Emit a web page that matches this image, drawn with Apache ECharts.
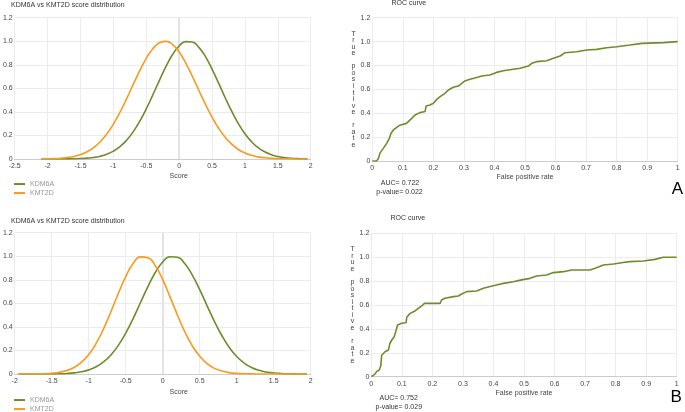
<!DOCTYPE html>
<html><head><meta charset="utf-8">
<script src="https://cdn.jsdelivr.net/npm/echarts/dist/echarts.min.js"></script>
<style>html,body{margin:0;padding:0;background:#fff}#c{width:685px;height:412px}</style>
</head><body><div id="c"></div>
<script>
// ---------- DATA ----------
const seriesNames = ['KDM6A', 'KMT2D'];
const titleDist = 'KDM6A vs KMT2D score distribution';
const titleRoc = 'ROC curve';

// Panel A: score distribution
const scoreX_A = [-2.1,-2.0,-1.9,-1.8,-1.7,-1.6,-1.5,-1.4,-1.3,-1.2,-1.1,-1.0,-0.9,-0.8,-0.7,-0.6,-0.5,-0.4,-0.3,-0.2,-0.1,0,0.1,0.2,0.3,0.4,0.5,0.6,0.7,0.8,0.9,1.0,1.1,1.2,1.3,1.4,1.5,1.6,1.7,1.8,1.9,1.95];
const kdm6a_A = [0,0.0001,0.0002,0.0004,0.0009,0.0018,0.0037,0.0072,0.013,0.024,0.041,0.067,0.105,0.159,0.230,0.320,0.426,0.545,0.668,0.786,0.887,0.960,0.997,0.993,0.948,0.869,0.763,0.644,0.520,0.404,0.300,0.214,0.147,0.096,0.061,0.037,0.021,0.012,0.006,0.003,0.0016,0.0011];
const kmt2d_A = [0.0009,0.0018,0.0035,0.0068,0.0125,0.022,0.038,0.062,0.097,0.147,0.212,0.296,0.397,0.510,0.631,0.749,0.855,0.937,0.987,0.999,0.972,0.908,0.815,0.703,0.582,0.464,0.355,0.261,0.184,0.125,0.081,0.051,0.031,0.018,0.010,0.005,0.003,0.0015,0.0007,0.0003,0.0001,0.0001];

// Panel A: ROC curve [false positive rate, true positive rate]
const roc_A = [[0,0],[0.014,0],[0.014,0.014],[0.02,0.02],[0.025,0.03],[0.025,0.066],[0.036,0.106],[0.047,0.148],[0.056,0.19],[0.061,0.23],[0.069,0.26],[0.074,0.273],[0.09,0.30],[0.112,0.315],[0.129,0.357],[0.14,0.385],[0.156,0.405],[0.173,0.415],[0.176,0.46],[0.189,0.469],[0.2,0.483],[0.211,0.516],[0.222,0.539],[0.238,0.567],[0.249,0.594],[0.265,0.617],[0.282,0.628],[0.293,0.650],[0.303,0.670],[0.32,0.684],[0.342,0.70],[0.358,0.712],[0.385,0.72],[0.407,0.742],[0.429,0.756],[0.462,0.768],[0.484,0.776],[0.511,0.795],[0.522,0.818],[0.538,0.832],[0.571,0.84],[0.593,0.86],[0.615,0.879],[0.631,0.907],[0.669,0.915],[0.702,0.929],[0.735,0.935],[0.767,0.949],[0.80,0.957],[0.844,0.971],[0.882,0.985],[0.953,0.991],[1.0,1.0]];
const stats_A = ['AUC= 0.722', 'p-value= 0.022'];

// Panel B: score distribution
const scoreX_B = [-1.95,-1.9,-1.8,-1.7,-1.6,-1.5,-1.4,-1.3,-1.2,-1.1,-1.0,-0.9,-0.8,-0.7,-0.6,-0.5,-0.4,-0.3,-0.2,-0.1,0,0.1,0.2,0.3,0.4,0.5,0.6,0.7,0.8,0.9,1.0,1.1,1.2,1.3,1.4,1.5,1.6,1.7,1.8,1.9,1.95];
const kdm6a_B = [0,0,0.0001,0.0002,0.0004,0.001,0.0022,0.0047,0.0097,0.019,0.035,0.061,0.102,0.162,0.243,0.347,0.471,0.607,0.742,0.862,0.951,0.996,0.991,0.936,0.840,0.716,0.579,0.445,0.325,0.225,0.148,0.093,0.055,0.031,0.017,0.0084,0.0041,0.0019,0.0008,0.0003,0.0002];
const kmt2d_B = [0.0001,0.0001,0.0004,0.0011,0.0027,0.0064,0.014,0.029,0.055,0.098,0.165,0.260,0.383,0.529,0.684,0.827,0.938,0.995,0.988,0.919,0.801,0.653,0.499,0.357,0.239,0.150,0.088,0.048,0.025,0.012,0.0054,0.0023,0.0009,0.0003,0.0001,0,0,0,0,0,0];

// Panel B: ROC curve
const roc_B = [[0,0],[0,0.014],[0.012,0.022],[0.017,0.042],[0.026,0.056],[0.031,0.089],[0.034,0.1],[0.034,0.18],[0.045,0.209],[0.056,0.223],[0.061,0.28],[0.067,0.307],[0.075,0.335],[0.08,0.377],[0.086,0.433],[0.099,0.447],[0.114,0.452],[0.116,0.497],[0.127,0.53],[0.143,0.55],[0.154,0.572],[0.165,0.592],[0.174,0.614],[0.225,0.614],[0.23,0.642],[0.241,0.656],[0.269,0.67],[0.285,0.675],[0.296,0.692],[0.312,0.712],[0.345,0.717],[0.367,0.74],[0.389,0.754],[0.41,0.768],[0.432,0.781],[0.465,0.795],[0.492,0.81],[0.52,0.823],[0.541,0.843],[0.574,0.851],[0.596,0.871],[0.629,0.879],[0.656,0.893],[0.716,0.893],[0.733,0.907],[0.76,0.935],[0.793,0.943],[0.825,0.955],[0.847,0.963],[0.891,0.968],[0.929,0.982],[0.956,0.999],[1,1]];
const stats_B = ['AUC= 0.752', 'p-value= 0.029'];

const panelLetters = ['A', 'B'];
const rocXName = 'False positive rate';
const rocYName = 'True positive rate';
const distXName = 'Score';

// ---------- STYLE ----------
const FONT = '"Liberation Sans", Arial, sans-serif';
const GREEN = '#6d8d2d', ORANGE = '#f99a1e';
const LBL = '#444', GRIDC = '#ececec';

const zip = (xs, ys) => xs.map((x, i) => [x, ys[i]]);
const yFmt = v => v === 0 ? '0' : v.toFixed(1);
const vertName = rocYName.split('').join('\n');

function xAx(grid, min, max, interval, name, gap, pad) {
  return {
    gridIndex: grid, type: 'value', min, max, interval,
    name, nameLocation: 'middle', nameGap: gap,
    nameTextStyle: { fontSize: 7, color: LBL, fontFamily: FONT, padding: [0, 0, 0, pad] },
    axisLine: { lineStyle: { color: '#ccc' } }, axisTick: { show: false },
    axisLabel: { fontSize: 7, color: LBL, fontFamily: FONT, margin: 4 },
    splitLine: { show: true, lineStyle: { color: GRIDC } }
  };
}
function yAx(grid, roc) {
  const a = {
    gridIndex: grid, type: 'value', min: 0, max: 1.2, interval: 0.2,
    axisLine: { show: false }, axisTick: { show: false },
    axisLabel: { fontSize: 7, color: LBL, fontFamily: FONT, margin: 2, formatter: yFmt },
    splitLine: { show: true, lineStyle: { color: GRIDC } }
  };
  if (roc) {
    a.name = vertName; a.nameLocation = 'middle'; a.nameRotate = 0; a.nameGap = 14.6;
    a.nameTextStyle = { fontSize: 7, color: LBL, fontFamily: FONT, lineHeight: 6.55, align: 'center', verticalAlign: 'middle' };
  }
  return a;
}
function distSeries(name, idx, xs, ys, color, withZero) {
  const s = {
    name, type: 'line', xAxisIndex: idx, yAxisIndex: idx, data: zip(xs, ys),
    smooth: true, symbol: 'none', lineStyle: { color, width: 1.6 }, itemStyle: { color }, z: 3
  };
  if (withZero) s.markLine = { silent: true, symbol: 'none', label: { show: false },
    lineStyle: { color: '#e3e3e3', width: 2, type: 'solid' }, data: [{ xAxis: 0 }], z: 1 };
  return s;
}
function rocSeries(idx, pts) {
  return { name: 'ROC' + idx, type: 'line', xAxisIndex: idx, yAxisIndex: idx, data: pts,
    symbol: 'none', lineStyle: { color: GREEN, width: 1.6 }, z: 3 };
}
const tStyle = { fontSize: 7, fontWeight: 'normal', color: '#333', fontFamily: FONT };
function txt(x, y, text, size, color) {
  return { type: 'text', x, y, style: { text, fontSize: size, fill: color, fontFamily: FONT,
    align: 'center', verticalAlign: 'middle', textAlign: 'center', textVerticalAlign: 'middle' } };
}
function legend(top) {
  return { left: 14, top, height: 30, orient: 'vertical', padding: 0, itemWidth: 11, itemHeight: 2, itemGap: 1.5,
    icon: 'rect', data: seriesNames, textStyle: { fontSize: 7, color: '#999', fontFamily: FONT, lineHeight: 7.5 } };
}

const chart = echarts.init(document.getElementById('c'), null, { renderer: 'canvas' });
chart.setOption({
  animation: false,
  backgroundColor: '#fff',
  textStyle: { fontFamily: FONT },
  title: [
    { text: titleDist, left: 11, top: 2, padding: 0, textStyle: tStyle },
    { text: titleRoc, left: 391.5, top: 0, padding: 0, textStyle: tStyle },
    { text: titleDist, left: 11, top: 217.5, padding: 0, textStyle: tStyle },
    { text: titleRoc, left: 390.5, top: 215, padding: 0, textStyle: tStyle }
  ],
  legend: [legend(180.3), legend(396.3)],
  grid: [
    { left: 12.7, top: 17.7, width: 298, height: 141.3 },
    { left: 372.3, top: 17.7, width: 305.4, height: 143.3 },
    { left: 11.7, top: 232.7, width: 299, height: 141.3 },
    { left: 371.3, top: 233.3, width: 305.4, height: 143.4 }
  ],
  xAxis: [
    xAx(0, -2.5, 2, 0.5, distXName, 14, 32),
    xAx(1, 0, 1, 0.1, rocXName, 13, 0),
    xAx(2, -2, 2, 0.5, distXName, 14.5, 32),
    xAx(3, 0, 1, 0.1, rocXName, 12.5, 0)
  ],
  yAxis: [yAx(0, false), yAx(1, true), yAx(2, false), yAx(3, true)],
  series: [
    distSeries(seriesNames[0], 0, scoreX_A, kdm6a_A, GREEN, true),
    distSeries(seriesNames[1], 0, scoreX_A, kmt2d_A, ORANGE, false),
    rocSeries(1, roc_A),
    distSeries(seriesNames[0], 2, scoreX_B, kdm6a_B, GREEN, true),
    distSeries(seriesNames[1], 2, scoreX_B, kmt2d_B, ORANGE, false),
    rocSeries(3, roc_B)
  ],
  graphic: [
    txt(400, 183, stats_A[0], 7, '#333'),
    txt(399.5, 192, stats_A[1], 7, '#333'),
    txt(398.7, 398.3, stats_B[0], 7, '#333'),
    txt(398.8, 406.8, stats_B[1], 7, '#333'),
    txt(677.5, 189, panelLetters[0], 17, '#000'),
    txt(676.2, 397, panelLetters[1], 17, '#000')
  ]
});
</script></body></html>
